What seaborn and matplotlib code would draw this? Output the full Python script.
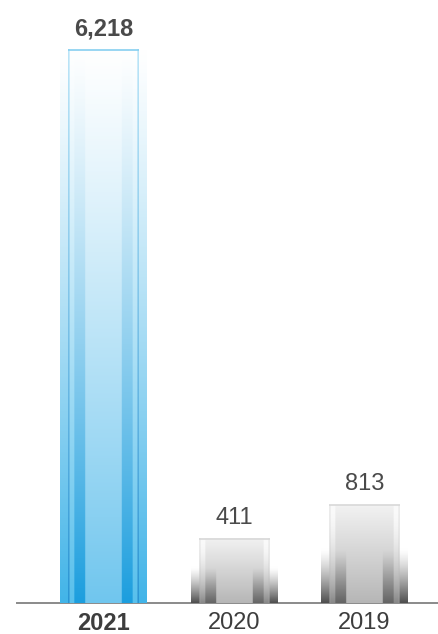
import numpy as np
import pandas as pd
import matplotlib
matplotlib.use("Agg")
import matplotlib.pyplot as plt
import seaborn as sns

# ---- data ----
years = ["2021", "2020", "2019"]
values = [6218, 411, 813]
value_labels = ["6,218", "411", "813"]
highlight_year = "2021"

# stylised (compressed) axis: bars grow from a floor below zero
AXIS_FLOOR = -350
AXIS_TOP = 6811

sns.set_theme(style="white")
plt.rcParams["font.family"] = ["Liberation Sans", "DejaVu Sans"]

fig = plt.figure(figsize=(4.38, 6.34), dpi=100)
ax = fig.add_axes([17 / 438, 31 / 634, 421 / 438, 603 / 634])

df = pd.DataFrame({"year": years, "value": values})
df["span"] = df["value"] - AXIS_FLOOR
sns.barplot(data=df, x="year", y="span", order=years, bottom=AXIS_FLOOR,
            width=0.544, color="#cccccc", ax=ax, zorder=1)

OUTER = 1.225  # outer glow band relative to bar half width


def blue_image(M=500, N=176):
    r = np.abs(np.linspace(-OUTER, OUTER, N))
    t = np.linspace(0, 1, M)[:, None] ** 1.15
    bottom = np.zeros((N, 3))
    top = np.ones((N, 3)) * 255
    bottom[r > 1.0] = (66, 180, 232)
    m = (r > 0.965) & (r <= 1.0)
    bottom[m] = (25, 128, 198)
    top[m] = (140, 210, 242)
    bottom[(r > 0.83) & (r <= 0.965)] = (88, 192, 236)
    bottom[(r > 0.52) & (r <= 0.83)] = (28, 158, 222)
    bottom[r <= 0.52] = (112, 198, 238)
    img = top[None, :, :] + (bottom - top)[None, :, :] * t[:, :, None]
    return np.clip(img / 255, 0, 1)


def grey_image(M=300, N=176):
    r = np.abs(np.linspace(-OUTER, OUTER, N))
    tl = np.linspace(0, 1, M)[:, None]
    a = np.clip((tl - 0.45) / 0.55, 0, 1) ** 1.3
    center = 242 + (182 - 242) * tl
    col = np.repeat(center, N, axis=1)
    stripe = (r > 0.52) & (r <= 0.83)
    sc = center * (1 - a) + 100 * a
    col[:, stripe] = np.repeat(sc, stripe.sum(), axis=1)
    light = (r > 0.83) & (r <= 0.965)
    lc = 250 + (135 - 250) * tl ** 2
    col[:, light] = np.repeat(lc, light.sum(), axis=1)
    edge = (r > 0.965) & (r <= 1.0)
    ec = 222 + (150 - 222) * tl ** 2
    col[:, edge] = np.repeat(ec, edge.sum(), axis=1)
    outer = r > 1.0
    oc = 255 * (1 - a) + 78 * a
    col[:, outer] = np.repeat(oc, outer.sum(), axis=1)
    img = np.repeat(col[:, :, None], 3, axis=2)
    return np.clip(img / 255, 0, 1)


for patch, year in zip(ax.patches, years):
    x0, w = patch.get_x(), patch.get_width()
    y0, h = patch.get_y(), patch.get_height()
    cx = x0 + w / 2
    ow = w * OUTER
    hi = year == highlight_year
    img = blue_image() if hi else grey_image()
    ax.imshow(img, extent=[cx - ow / 2, cx + ow / 2, y0, y0 + h],
              aspect="auto", interpolation="bilinear", zorder=2)
    patch.set_visible(False)
    ax.hlines(y0 + h, x0, x0 + w, color="#86cff0" if hi else "#d8d8d8",
              lw=1.2, zorder=3)

for i, (v, lab, year) in enumerate(zip(values, value_labels, years)):
    ax.annotate(lab, (i, v), xytext=(0, 10.5), textcoords="offset points",
                ha="center", va="baseline", fontsize=17,
                fontweight="bold" if year == highlight_year else "normal",
                color="#4a4a4a")

ax.set_xlim(-0.663, 2.563)
ax.set_ylim(AXIS_FLOOR, AXIS_TOP)
ax.set_xlabel("")
ax.set_ylabel("")
ax.set_yticks([])
ax.tick_params(axis="x", length=0, pad=6.5, labelsize=17, colors="#3d3d3d")
for lbl in ax.get_xticklabels():
    if lbl.get_text() == highlight_year:
        lbl.set_fontweight("bold")
for s in ["top", "left", "right"]:
    ax.spines[s].set_visible(False)
ax.spines["bottom"].set_color("#8a8a8a")
ax.spines["bottom"].set_linewidth(1.4)
ax.spines["bottom"].set_zorder(1)
ax.patch.set_alpha(0)

fig.savefig("out.png", dpi=100)
